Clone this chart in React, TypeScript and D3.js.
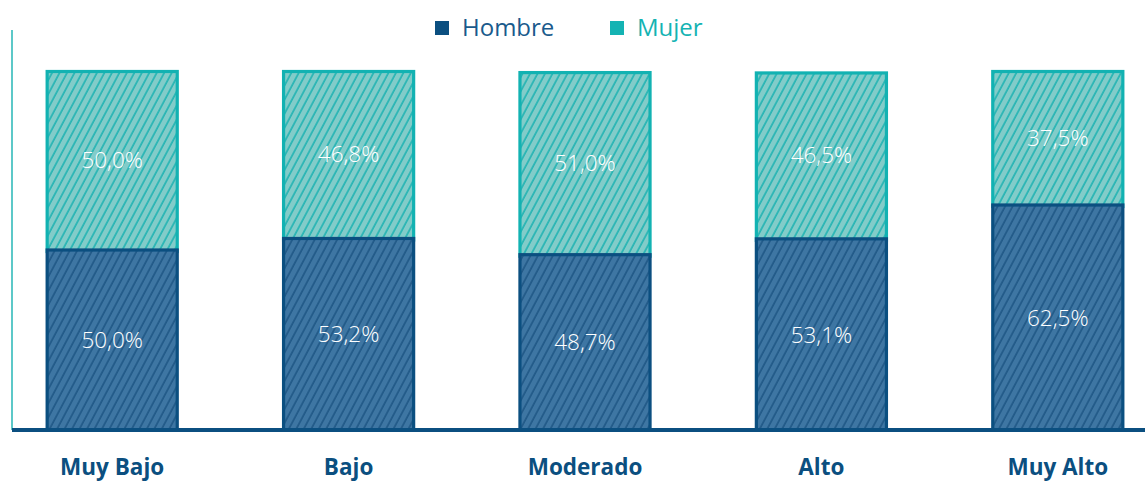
import React, { useEffect, useRef } from 'react';
import { scaleBand, scaleLinear, select } from 'd3';

const categories = ['Muy Bajo', 'Bajo', 'Moderado', 'Alto', 'Muy Alto'];
const hombre = [50.0, 53.2, 48.7, 53.1, 62.5];
const mujer = [50.0, 46.8, 51.0, 46.5, 37.5];
const seriesNames = ['Hombre', 'Mujer'];

const fmt = (v: number) => v.toFixed(1).replace('.', ',') + '%';

function App() {
  const svgRef = useRef<SVGSVGElement>(null);
  const width = 1145;
  const height = 482;
  const baseY = 430;
  const topY = 70;

  useEffect(() => {
    const svg = select(svgRef.current);
    svg.selectAll('*').remove();

    const x = scaleBand<string>()
      .domain(categories)
      .range([-6, 1176])
      .paddingInner(0.437)
      .paddingOuter(0.2185);

    const y = scaleLinear().domain([0, 100]).range([baseY, topY]);

    const defs = svg.append('defs');
    const makePattern = (id: string, bg: string, fg: string) => {
      const p = defs
        .append('pattern')
        .attr('id', id)
        .attr('patternUnits', 'userSpaceOnUse')
        .attr('width', 6.6)
        .attr('height', 10)
        .attr('patternTransform', 'rotate(28)');
      p.append('rect').attr('width', 6.6).attr('height', 10).attr('fill', bg);
      p.append('line')
        .attr('x1', 1).attr('y1', 0).attr('x2', 1).attr('y2', 10)
        .attr('stroke', fg).attr('stroke-width', 1.5);
    };
    makePattern('hatch-h', '#3e76a3', '#1d5584');
    makePattern('hatch-m', '#82ccc9', '#19b1b1');

    const font = "'Open Sans', sans-serif";

    // y axis line
    svg.append('line')
      .attr('x1', 12).attr('x2', 12).attr('y1', 30).attr('y2', baseY)
      .attr('stroke', '#5cc8c8').attr('stroke-width', 2);

    const bw = x.bandwidth();
    const g = svg.append('g');

    categories.forEach((c, i) => {
      const x0 = x(c)!;
      const h0 = y(0), h1 = y(hombre[i]), m1 = y(hombre[i] + mujer[i]);
      // mujer
      g.append('rect')
        .attr('x', x0 + 1.5).attr('y', m1 + 1.5)
        .attr('width', bw - 3).attr('height', h1 - m1)
        .attr('fill', 'url(#hatch-m)')
        .attr('stroke', '#12b2b2').attr('stroke-width', 3.2);
      // hombre
      g.append('rect')
        .attr('x', x0 + 1.5).attr('y', h1)
        .attr('width', bw - 3).attr('height', h0 - h1)
        .attr('fill', 'url(#hatch-h)')
        .attr('stroke', '#0b4f80').attr('stroke-width', 3.2);

      g.append('text')
        .attr('x', x0 + bw / 2).attr('y', (m1 + h1) / 2)
        .attr('dy', '0.36em')
        .attr('text-anchor', 'middle')
        .attr('fill', '#fff')
        .attr('font-family', font).attr('font-size', 22.5).attr('font-weight', 300)
        .text(fmt(mujer[i]));
      g.append('text')
        .attr('x', x0 + bw / 2).attr('y', (h1 + h0) / 2)
        .attr('dy', '0.36em')
        .attr('text-anchor', 'middle')
        .attr('fill', '#fff')
        .attr('font-family', font).attr('font-size', 22.5).attr('font-weight', 300)
        .text(fmt(hombre[i]));

      svg.append('text')
        .attr('x', x0 + bw / 2).attr('y', 475)
        .attr('text-anchor', 'middle')
        .attr('fill', '#0b4f80')
        .attr('font-family', font).attr('font-size', 22.5).attr('font-weight', 700)
        .text(c);
    });

    // baseline
    svg.append('line')
      .attr('x1', 12).attr('x2', width).attr('y1', baseY).attr('y2', baseY)
      .attr('stroke', '#0b4f80').attr('stroke-width', 4);

    // legend
    const legend = [
      { name: seriesNames[0], sq: '#0b4f80', txt: '#1a5a8c', x: 435 },
      { name: seriesNames[1], sq: '#14b3b3', txt: '#14b3b3', x: 610 },
    ];
    legend.forEach((l) => {
      svg.append('rect')
        .attr('x', l.x).attr('y', 21).attr('width', 14).attr('height', 14)
        .attr('fill', l.sq);
      svg.append('text')
        .attr('x', l.x + 27).attr('y', 36)
        .attr('fill', l.txt)
        .attr('font-family', font).attr('font-size', 24)
        .text(l.name);
    });
  }, []);

  return (
    <svg
      ref={svgRef}
      width={width}
      height={height}
      style={{ position: 'absolute', left: 0, top: 0, display: 'block' }}
    />
  );
}

export default App;
